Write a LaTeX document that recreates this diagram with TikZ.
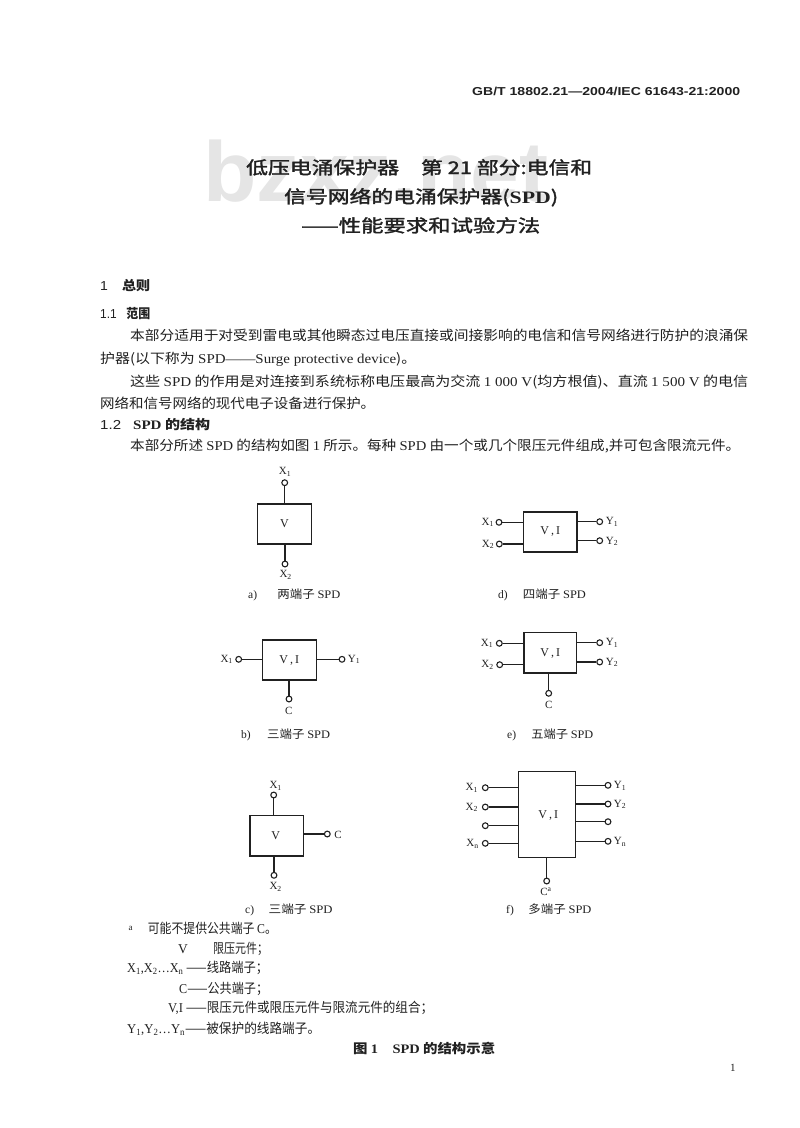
\documentclass[tikz,border=0pt]{standalone}
\usepackage{graphicx}
\usepackage{fontspec}
\setmainfont{Noto Sans CJK SC}
\newfontfamily\ttlf[FakeBold=1.6]{Noto Sans CJK SC}
\newfontfamily\latf{Liberation Serif}
\newfontfamily\headf{Liberation Sans}
\newcommand\lat[1]{{\latf #1}}
\newcommand\num[1]{{\headf\mdseries #1}}
\newsavebox\fitbox
\newcommand\fitw[2]{\sbox\fitbox{#2}\pgfmathsetmacro\fitr{#1/\wd\fitbox}\scalebox{\fitr}[1]{\usebox\fitbox}}
\definecolor{ink}{gray}{0.13}
\newcommand\Xs[1]{X\textsubscript{#1}}
\newcommand\Ys[1]{Y\textsubscript{#1}}
\newcommand\VI{V\,,\,I}
\tikzset{
  x=1pt,y=-1pt,
  every node/.style={inner sep=0pt,text=ink},
  ln/.style={anchor=base west,font=\fontsize{13.5}{14}\selectfont},
  hd/.style={anchor=base west,font=\fontsize{13}{14}\selectfont\bfseries},
  ttl/.style={anchor=base west,font=\fontsize{17.5}{20}\selectfont\ttlf},
  capt/.style={anchor=base west,font=\fontsize{11.5}{12}\selectfont},
  tag/.style={font=\fontsize{11}{12}\selectfont\latf},
  mid/.style={font=\fontsize{12}{12}\selectfont\latf},
  unit/.style={draw=ink,line width=1.2pt,rectangle},
  term/.style={draw=ink,line width=1.1pt,circle,minimum size=5.8pt,fill=white},
  wire/.style={draw=ink,line width=1.2pt},
  wm/.style={anchor=base west,text=black!10,font=\fontsize{85}{90}\selectfont\headf\bfseries}
}
\begin{document}
\begin{tikzpicture}
\useasboundingbox (0,0) rectangle (800,1128);
\fill[white] (0,0) rectangle (800,1128);
% watermark
\node[wm] (wmark) at (203,201) {\fitw{345}{bzxz.net}};
% header and title
\node[anchor=base west,font=\fontsize{11.5}{12}\selectfont\headf\bfseries] (hdr) at (472,95) {\fitw{268}{GB/T 18802.21—2004/IEC 61643-21:2000}};
\node[ttl] (t1) at (246,174) {\fitw{346}{低压电涌保护器\hspace{1em}第 21 部分:电信和}};
\node[ttl] (t2) at (284,203) {\fitw{274}{信号网络的电涌保护器(\lat{\textbf{SPD}})}};
\node[ttl] (t3) at (301,232) {\fitw{239}{——性能要求和试验方法}};
% body
\node[hd] (s1) at (100,290) {\fitw{50}{\num{1}\hspace{1em}总则}};
\node[hd] (s11) at (100,318) {\fitw{50}{\num{1.1}\hspace{.8em}范围}};
\node[ln] (b1) at (130,340) {\fitw{618}{本部分适用于对受到雷电或其他瞬态过电压直接或间接影响的电信和信号网络进行防护的浪涌保}};
\node[ln] (b2) at (100,363) {\fitw{316}{护器(以下称为 \lat{SPD——Surge protective device})。}};
\node[ln] (b3) at (130,386) {\fitw{618}{这些 \lat{SPD} 的作用是对连接到系统标称电压最高为交流 \lat{1 000 V}(均方根值)、直流 \lat{1 500 V} 的电信}};
\node[ln] (b4) at (100,408) {\fitw{275}{网络和信号网络的现代电子设备进行保护。}};
\node[hd] (s12) at (100,429) {\fitw{110}{\num{1.2}\hspace{.8em}\lat{SPD} 的结构}};
\node[ln] (b5) at (130,450) {\fitw{610}{本部分所述 \lat{SPD} 的结构如图 \lat{1} 所示。每种 \lat{SPD} 由一个或几个限压元件组成,并可包含限流元件。}};
% a
\node[unit,minimum width=53.6pt,minimum height=40pt] (ba) at (284.5,524) {};
\node[mid] (va) at (284.5,524) {V};
\node[term] (ax1) at (284.7,482.7) {};
\node[term] (ax2) at (285,564) {};
\node[tag] (lax1) at (285,472) {\Xs{1}};
\node[tag] (lax2) at (285.7,575) {\Xs{2}};
\draw[wire] (ax1) -- (ax1 |- ba.north);
\draw[wire] (ax2) -- (ax2 |- ba.south);
\node[capt] (ca) at (248,598) {\lat{a)}\hspace{1.76em}\fitw{63}{两端子 \lat{SPD}}};
% b
\node[unit,minimum width=54pt,minimum height=40pt] (bb) at (289.3,660) {};
\node[mid] (vb) at (289.3,660) {\VI};
\node[term] (bx1) at (238.7,659.3) {};
\node[term] (by1) at (342,659.3) {};
\node[term] (bc) at (289,699) {};
\node[tag] (lbx1) at (226.7,659.5) {\Xs{1}};
\node[tag] (lby1) at (354,659.5) {\Ys{1}};
\node[tag] (lbc) at (288.7,711) {C};
\draw[wire] (bx1) -- (bx1 -| bb.west);
\draw[wire] (by1) -- (by1 -| bb.east);
\draw[wire] (bc) -- (bc |- bb.south);
\node[capt] (cb) at (241,738) {\lat{b)}\hspace{1.42em}\fitw{63}{三端子 \lat{SPD}}};
% c
\node[unit,minimum width=53.7pt,minimum height=40.7pt] (bc2) at (276.8,835.6) {};
\node[mid] (vc) at (275.7,835.6) {V};
\node[term] (cx1) at (273.7,795) {};
\node[term] (cx2) at (274,875.3) {};
\node[term] (cc) at (327.3,834) {};
\node[tag] (lcx1) at (275.7,785.7) {\Xs{1}};
\node[tag] (lcx2) at (275.7,886.7) {\Xs{2}};
\node[tag] (lcc) at (338,834.5) {C};
\draw[wire] (cx1) -- (cx1 |- bc2.north);
\draw[wire] (cx2) -- (cx2 |- bc2.south);
\draw[wire] (cc) -- (cc -| bc2.east);
\node[capt] (cc3) at (245,913) {\lat{c)}\hspace{1.26em}\fitw{64}{三端子 \lat{SPD}}};
% d
\node[unit,minimum width=53.3pt,minimum height=40pt] (bd) at (550.3,532) {};
\node[mid] (vd) at (550.3,531) {\VI};
\node[term] (dx1) at (499,522.3) {};
\node[term] (dx2) at (499.3,544) {};
\node[term] (dy1) at (599.7,521.7) {};
\node[term] (dy2) at (599.7,540.7) {};
\node[tag] (ldx1) at (487.7,522.3) {\Xs{1}};
\node[tag] (ldx2) at (488,544.3) {\Xs{2}};
\node[tag] (ldy1) at (612,522) {\Ys{1}};
\node[tag] (ldy2) at (612,541.5) {\Ys{2}};
\draw[wire] (dx1) -- (dx1 -| bd.west);
\draw[wire] (dx2) -- (dx2 -| bd.west);
\draw[wire] (dy1) -- (dy1 -| bd.east);
\draw[wire] (dy2) -- (dy2 -| bd.east);
\node[capt] (cd) at (498,598) {\lat{d)}\hspace{1.32em}\fitw{63}{四端子 \lat{SPD}}};
% e
\node[unit,minimum width=52.7pt,minimum height=40.3pt] (be) at (550.3,652.8) {};
\node[mid] (ve) at (550.3,653) {\VI};
\node[term] (ex1) at (499.3,643.3) {};
\node[term] (ex2) at (499.7,664.7) {};
\node[term] (ey1) at (599.7,642.7) {};
\node[term] (ey2) at (599.7,662) {};
\node[term] (ec) at (548.7,693.3) {};
\node[tag] (lex1) at (487,643.5) {\Xs{1}};
\node[tag] (lex2) at (487.5,665) {\Xs{2}};
\node[tag] (ley1) at (612,643) {\Ys{1}};
\node[tag] (ley2) at (612,662.5) {\Ys{2}};
\node[tag] (lec) at (548.7,704.5) {C};
\draw[wire] (ex1) -- (ex1 -| be.west);
\draw[wire] (ex2) -- (ex2 -| be.west);
\draw[wire] (ey1) -- (ey1 -| be.east);
\draw[wire] (ey2) -- (ey2 -| be.east);
\draw[wire] (ec) -- (ec |- be.south);
\node[capt] (ce) at (507,738) {\lat{e)}\hspace{1.32em}\fitw{62}{五端子 \lat{SPD}}};
% f
\node[unit,minimum width=56.6pt,minimum height=86pt] (bf) at (547,814.3) {};
\node[mid] (vf) at (548.3,815.5) {\VI};
\node[term] (fx1) at (485.3,787.7) {};
\node[term] (fx2) at (485.3,807) {};
\node[term] (fx3) at (485.3,825.7) {};
\node[term] (fxn) at (485.3,843.3) {};
\node[term] (fy1) at (608,785.3) {};
\node[term] (fy2) at (608,804) {};
\node[term] (fy3) at (608,821.7) {};
\node[term] (fyn) at (608,841.3) {};
\node[term] (fc) at (546.7,881) {};
\node[tag] (lfx1) at (471.7,788) {\Xs{1}};
\node[tag] (lfx2) at (471.7,807.3) {\Xs{2}};
\node[tag] (lfxn) at (472.5,844) {\Xs{n}};
\node[tag] (lfy1) at (620,786) {\Ys{1}};
\node[tag] (lfy2) at (620,804.5) {\Ys{2}};
\node[tag] (lfyn) at (620,842) {\Ys{n}};
\node[tag] (lfc) at (546,892) {C\textsuperscript{a}};
\foreach \n in {fx1,fx2,fx3,fxn} \draw[wire] (\n) -- (\n -| bf.west);
\foreach \n in {fy1,fy2,fy3,fyn} \draw[wire] (\n) -- (\n -| bf.east);
\draw[wire] (fc) -- (fc |- bf.south);
\node[capt] (cf) at (506,913) {\lat{f)}\hspace{1.27em}\fitw{63}{多端子 \lat{SPD}}};
% notes
\node[ln,font=\fontsize{9}{10}\selectfont\latf] (na) at (128.5,930) {a};
\node[ln] (n1) at (147.7,933) {\fitw{129}{可能不提供公共端子 \lat{C}。}};
\node[ln] (n2a) at (178,953) {\lat{V}};
\node[ln] (n2) at (213,953) {\fitw{55}{限压元件；}};
\node[ln] (n3) at (127,972) {\fitw{141}{\lat{\Xs{1},\Xs{2}…\Xs{n}} ——线路端子；}};
\node[ln] (n4) at (179,993) {\fitw{89}{\lat{C}——公共端子；}};
\node[ln] (n5) at (168,1012.5) {\fitw{265}{\lat{V,I} ——限压元件或限压元件与限流元件的组合；}};
\node[ln] (n6) at (127,1033) {\fitw{193}{\lat{\Ys{1},\Ys{2}…\Ys{n}}——被保护的线路端子。}};
\node[hd] (figc) at (353,1053) {\fitw{142}{图 \lat{1}\hspace{1em}\lat{SPD} 的结构示意}};
\node[ln,font=\fontsize{11}{12}\selectfont\latf] (pn) at (730,1071) {1};
\end{tikzpicture}
\end{document}
